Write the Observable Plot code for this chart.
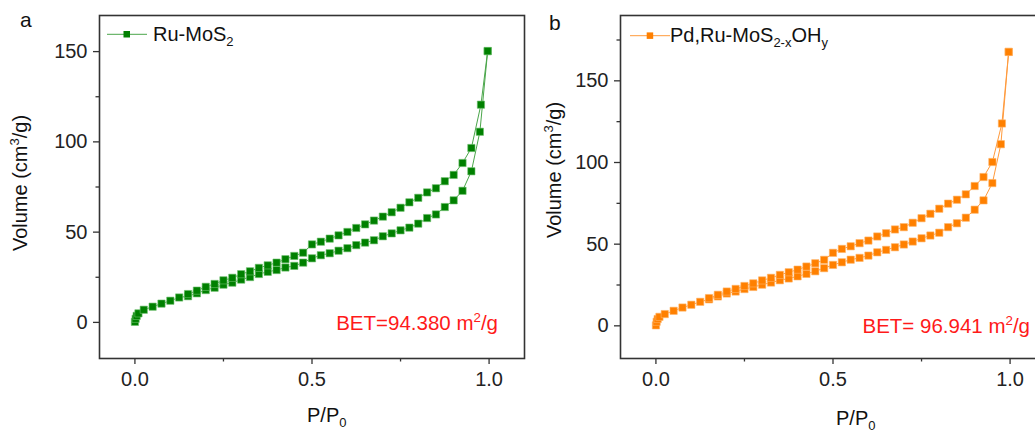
<!DOCTYPE html>
<html><head><meta charset="utf-8">
<script src="https://cdn.jsdelivr.net/npm/d3@7"></script>
<script src="https://cdn.jsdelivr.net/npm/@observablehq/plot@0.6"></script>
<style>
body{margin:0;background:#fff;}
#wrap{position:relative;width:1035px;height:432px;overflow:hidden;background:#fff;}
#wrap svg{position:absolute;top:0;}
</style></head><body><div id="wrap"></div>
<script>
// Relative pressure (adsorption branch, ascending) shared by both samples
const pAds = [0.000,0.002,0.005,0.010,0.025,0.050,0.075,0.100,0.125,0.150,0.175,0.200,0.225,0.250,0.275,0.300,0.325,0.350,0.375,0.400,0.425,0.450,0.475,0.500,0.525,0.550,0.575,0.600,0.625,0.650,0.675,0.700,0.725,0.750,0.775,0.800,0.825,0.850,0.875,0.900,0.925,0.950,0.974,0.996];
// Relative pressure (desorption branch, descending)
const pDes = [0.996,0.977,0.950,0.925,0.900,0.875,0.850,0.825,0.800,0.775,0.750,0.725,0.700,0.675,0.650,0.625,0.600,0.575,0.550,0.525,0.500,0.475,0.450,0.425,0.400,0.375,0.350,0.325,0.300,0.275,0.250,0.225,0.200,0.175,0.150];

// Ru-MoS2 volumes (cm3/g)
const vAdsA = [0.3,2.0,3.6,5.0,7.0,8.7,10.4,12.0,13.8,14.5,16.1,17.9,19.2,20.9,22.0,23.7,25.1,26.8,28.0,29.0,30.4,31.3,33.1,35.5,37.2,38.3,39.7,41.1,42.8,44.2,45.5,47.7,49.3,51.0,52.5,54.7,57.8,59.8,63.9,67.6,72.9,83.7,105.6,150.3];
const vDesA = [150.3,120.6,96.6,88.3,81.7,78.2,74.3,72.0,69.0,66.5,63.5,61.0,58.6,56.4,54.3,52.3,50.1,48.2,46.4,44.7,43.2,38.6,36.8,35.0,33.1,31.6,30.2,28.3,26.7,24.7,23.3,21.3,19.7,17.6,15.7];

// Pd,Ru-MoS2-xOHy volumes (cm3/g)
const vAdsB = [0.3,2.5,4.2,5.5,7.2,9.2,11.2,12.9,14.7,16.2,18.0,19.8,21.0,22.5,23.8,25.2,26.5,27.9,29.0,30.3,31.8,33.4,35.3,37.3,38.9,40.5,41.6,43.0,45.0,46.5,48.1,49.8,51.6,53.6,55.3,57.0,60.4,62.8,66.2,71.1,76.8,87.4,111.2,167.7];
const vDesB = [167.7,123.9,100.3,91.1,85.6,80.5,77.2,74.8,71.7,68.6,65.9,63.1,60.4,59.0,56.7,54.7,52.2,50.6,48.7,47.1,44.7,40.4,38.3,36.3,34.4,32.8,31.2,29.4,27.8,26.0,24.4,22.6,21.0,19.0,17.0];

const xTicks = [0, 0.5, 1.0];
const xMinor = [0.25, 0.75];
const yTicks = [0, 50, 100, 150];
const yMinorA = [25, 75, 125];
const yMinorB = [25, 75, 125, 175];

const FONT = "Arial, 'Liberation Sans', sans-serif";

function panel(vAds, vDes, yDomain, yMinor, fill, halo, lineColor, mLeft, mRight) {
  const ads = pAds.map((p, i) => ({p, v: vAds[i]}));
  const des = pDes.map((p, i) => ({p, v: vDes[i]}));
  return Plot.plot({
    width: 530, height: 432,
    marginLeft: mLeft, marginRight: mRight, marginTop: 15, marginBottom: 74,
    x: {domain: [-0.1, 1.1]},
    y: {domain: yDomain},
    style: {fontFamily: FONT, fontSize: "20px", color: "#222", background: "transparent", overflow: "visible"},
    marks: [
      Plot.axisX({ticks: xTicks, tickFormat: d3.format(".1f"), tickSize: 6, tickPadding: 7, label: null, stroke: "#333", strokeWidth: 1.3, fontSize: 20}),
      Plot.axisX({ticks: xMinor, tickFormat: () => "", tickSize: 3.5, label: null, stroke: "#333", strokeWidth: 1.3}),
      Plot.axisY({ticks: yTicks, tickFormat: d3.format("d"), tickSize: 6, tickPadding: 6, label: null, stroke: "#333", strokeWidth: 1.3, fontSize: 20}),
      Plot.axisY({ticks: yMinor, tickFormat: () => "", tickSize: 3.5, label: null, stroke: "#333", strokeWidth: 1.3}),
      Plot.line(ads, {x: "p", y: "v", stroke: lineColor, strokeWidth: 1}),
      Plot.line(des, {x: "p", y: "v", stroke: lineColor, strokeWidth: 1}),
      Plot.dot(ads, {x: "p", y: "v", symbol: "square", r: 4.1, fill: fill, stroke: halo, strokeWidth: 0.6}),
      Plot.dot(des, {x: "p", y: "v", symbol: "square", r: 4.1, fill: fill, stroke: halo, strokeWidth: 0.6}),
      Plot.frame({stroke: "#333", strokeWidth: 1.6})
    ]
  });
}

const wrap = d3.select("#wrap");
const a = panel(vAdsA, vDesA, [-20, 170], yMinorA, "#008000", "#6cbf6c", "#4aa64a", 99, 6);
a.style.left = "0px";
wrap.node().appendChild(a);
const b = panel(vAdsB, vDesB, [-20, 190], yMinorB, "#ff8000", "#ffb366", "#ff9a3c", 100, 5);
b.style.left = "520px";
wrap.node().appendChild(b);

// Overlay texts (labels, legends, annotations)
const ov = wrap.append("svg").attr("width", 1035).attr("height", 432)
  .style("left", "0px").style("font-family", FONT).style("fill", "#111");

function rich(sel, parts, size) {
  // parts: [text, mode] with mode "", "sub", "sup"
  let shift = 0;
  parts.forEach(([t, m]) => {
    const target = m === "sub" ? 5 : m === "sup" ? -8 : 0;
    sel.append("tspan").attr("dy", target - shift)
      .attr("font-size", m ? size * 0.65 : size).text(t);
    shift = target;
  });
}

// panel letters
ov.append("text").attr("x", 20).attr("y", 27).attr("font-size", 21).text("a");
ov.append("text").attr("x", 549).attr("y", 30).attr("font-size", 21).text("b");

// y titles
rich(ov.append("text").attr("transform", "translate(27,183) rotate(-90)").attr("text-anchor", "middle"),
  [["Volume (cm", ""], ["3", "sup"], ["/g)", ""]], 20);
rich(ov.append("text").attr("transform", "translate(561,170) rotate(-90)").attr("text-anchor", "middle"),
  [["Volume (cm", ""], ["3", "sup"], ["/g)", ""]], 20);

// x titles
rich(ov.append("text").attr("x", 307).attr("y", 422), [["P/P", ""], ["0", "sub"]], 20);
rich(ov.append("text").attr("x", 836).attr("y", 425), [["P/P", ""], ["0", "sub"]], 20);

// legends
ov.append("line").attr("x1", 107).attr("x2", 147).attr("y1", 34.3).attr("y2", 34.3).attr("stroke", "#4aa64a").attr("stroke-width", 1);
ov.append("rect").attr("x", 123.5).attr("y", 31).attr("width", 6.5).attr("height", 6.5).attr("fill", "#008000");
rich(ov.append("text").attr("x", 153).attr("y", 41), [["Ru-MoS", ""], ["2", "sub"]], 20);

ov.append("line").attr("x1", 630).attr("x2", 670).attr("y1", 35.7).attr("y2", 35.7).attr("stroke", "#ff9a3c").attr("stroke-width", 1);
ov.append("rect").attr("x", 646.7).attr("y", 32.4).attr("width", 6.5).attr("height", 6.5).attr("fill", "#ff8000");
rich(ov.append("text").attr("x", 670).attr("y", 42), [["Pd,Ru-MoS", ""], ["2-x", "sub"], ["OH", ""], ["y", "sub"]], 20);

// BET annotations
rich(ov.append("text").attr("x", 498).attr("y", 330).attr("text-anchor", "end").style("fill", "#ff1a1a"),
  [["BET=94.380 m", ""], ["2", "sup"], ["/g", ""]], 20.5);
rich(ov.append("text").attr("x", 1030).attr("y", 333).attr("text-anchor", "end").style("fill", "#ff1a1a"),
  [["BET= 96.941 m", ""], ["2", "sup"], ["/g", ""]], 20.5);
</script>
</body></html>
